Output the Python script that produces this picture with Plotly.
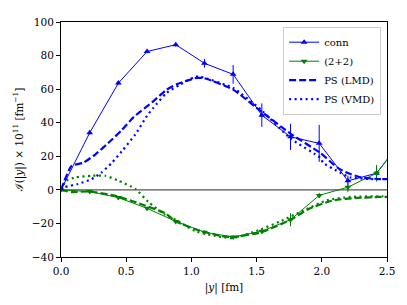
import plotly.graph_objects as go

# conn (lattice data)
conn_x = [0.0, 0.22, 0.44, 0.66, 0.88, 1.10, 1.32, 1.54, 1.76, 1.98, 2.20, 2.42, 2.64]
conn_y = [0.0, 34.0, 63.6, 82.4, 86.5, 75.4, 68.8, 44.5, 31.6, 27.7, 5.4, 9.9, 32.0]
conn_err = [0.0, 1.0, 1.0, 1.0, 1.2, 2.6, 5.6, 7.0, 7.8, 11.0, 3.0, 4.0, 4.0]

# (2+2) data
dis_x = [0.0, 0.22, 0.44, 0.66, 0.88, 1.10, 1.32, 1.54, 1.76, 1.98, 2.20, 2.42, 2.64]
dis_y = [0.0, -1.0, -4.6, -11.0, -18.8, -25.2, -28.1, -24.6, -17.8, -3.3, 1.6, 9.9, 32.0]
dis_err = [0.0, 0.3, 0.5, 0.8, 1.0, 1.0, 1.0, 1.5, 3.9, 1.5, 3.0, 5.0, 5.0]

# PS (LMD), conn
lmd_c_x = [0.0, 0.08, 0.17, 0.26, 0.36, 0.465, 0.555, 0.71, 0.81, 0.89, 1.04, 1.10,
           1.32, 1.53, 1.76, 1.99, 2.12, 2.19, 2.30, 2.45, 2.5]
lmd_c_y = [0.0, 14.2, 16.1, 20.9, 27.7, 35.5, 43.2, 52.9, 59.7, 63.0, 66.7, 66.5,
           59.7, 47.0, 33.5, 21.9, 13.2, 10.3, 7.4, 6.4, 6.4]

# PS (VMD), conn
vmd_c_x = [0.0, 0.03, 0.13, 0.235, 0.31, 0.39, 0.465, 0.57, 0.66, 0.71, 0.81, 0.91,
           1.03, 1.07, 1.32, 1.53, 1.76, 1.99, 2.01, 2.14, 2.22, 2.37, 2.5]
vmd_c_y = [0.0, 1.6, 3.5, 6.4, 10.3, 16.1, 22.9, 33.0, 44.2, 49.0, 57.8, 62.6,
           67.4, 67.4, 60.7, 48.0, 30.6, 19.0, 16.1, 10.3, 7.4, 6.4, 6.4]

# PS (LMD), (2+2)
lmd_d_x = [0.0, 0.08, 0.22, 0.43, 0.60, 0.80, 0.88, 1.06, 1.23, 1.32, 1.54, 1.76,
           1.91, 2.09, 2.27, 2.47, 2.5]
lmd_d_y = [0.0, -1.3, -1.0, -3.8, -8.1, -14.0, -18.8, -24.2, -27.5, -28.1, -25.2,
           -17.8, -11.0, -6.2, -4.8, -4.2, -4.2]

# PS (VMD), (2+2)
vmd_d_x = [0.0, 0.04, 0.11, 0.235, 0.34, 0.44, 0.57, 0.67, 0.80, 0.88, 1.03, 1.23,
           1.32, 1.53, 1.68, 1.84, 2.04, 2.22, 2.47, 2.5]
vmd_d_y = [0.0, 5.5, 7.4, 8.4, 8.4, 5.5, 0.6, -7.2, -14.9, -17.8, -24.6, -28.1,
           -28.8, -23.6, -18.8, -13.0, -6.2, -4.2, -3.8, -3.8]

BLUE = "#0000ff"
GREEN = "#008000"
FONT = "DejaVu Serif, Liberation Serif, serif"

fig = go.Figure()

fig.add_hline(y=0, line=dict(color="#555555", width=1.3), layer="below")

fig.add_trace(go.Scatter(
    x=lmd_d_x, y=lmd_d_y, mode="lines", showlegend=False,
    line=dict(color=GREEN, width=2.2, dash="7px,3px", shape="spline", smoothing=0.5)))
fig.add_trace(go.Scatter(
    x=vmd_d_x, y=vmd_d_y, mode="lines", showlegend=False,
    line=dict(color=GREEN, width=2.2, dash="2px,3.5px", shape="spline", smoothing=0.5)))

fig.add_trace(go.Scatter(
    x=conn_x, y=conn_y, mode="lines+markers", name="conn",
    line=dict(color=BLUE, width=1),
    marker=dict(symbol="triangle-up", size=6, color=BLUE),
    error_y=dict(type="data", array=conn_err, color=BLUE, thickness=1, width=0)))
fig.add_trace(go.Scatter(
    x=dis_x, y=dis_y, mode="lines+markers", name="(2+2)",
    line=dict(color=GREEN, width=1),
    marker=dict(symbol="triangle-down", size=6, color=GREEN),
    error_y=dict(type="data", array=dis_err, color=GREEN, thickness=1, width=0)))
fig.add_trace(go.Scatter(
    x=lmd_c_x, y=lmd_c_y, mode="lines", name="PS (LMD)",
    line=dict(color=BLUE, width=2.2, dash="7px,3px", shape="spline", smoothing=0.5)))
fig.add_trace(go.Scatter(
    x=vmd_c_x, y=vmd_c_y, mode="lines", name="PS (VMD)",
    line=dict(color=BLUE, width=2.2, dash="2px,3.5px", shape="spline", smoothing=0.5)))

axis_common = dict(
    showline=True, linecolor="black", linewidth=1, mirror=True,
    ticks="outside", ticklen=4, tickwidth=1, tickcolor="black",
    showgrid=False, zeroline=False,
    tickfont=dict(family=FONT, size=10.5, color="black"),
)

fig.update_xaxes(range=[0, 2.5], dtick=0.5, tick0=0, tickformat=".1f",
                 title=dict(text="|<i>y</i>| [fm]", font=dict(family=FONT, size=10.5, color="black"),
                            standoff=8),
                 **axis_common)
fig.update_yaxes(range=[-40, 100], dtick=20, tick0=0,
                 title=dict(text="ℐ(|<i>y</i>|) × 10<sup>11</sup> [fm<sup>−1</sup>]",
                            font=dict(family=FONT, size=10.5, color="black"), standoff=6),
                 **axis_common)

# page body has an 8px margin; margins compensate so the plot area lands as in the reference
fig.update_layout(
    width=407, height=305,
    margin=dict(l=53, r=28, t=8, b=56),
    plot_bgcolor="white", paper_bgcolor="white",
    font=dict(family=FONT, size=10.5, color="black"),
    legend=dict(x=0.982, y=0.98, xanchor="right", yanchor="top",
                bgcolor="rgba(255,255,255,0.8)", bordercolor="#cccccc", borderwidth=1,
                font=dict(family=FONT, size=10, color="black"),
                tracegroupgap=0, itemwidth=30),
)

fig.write_html("out.html")
